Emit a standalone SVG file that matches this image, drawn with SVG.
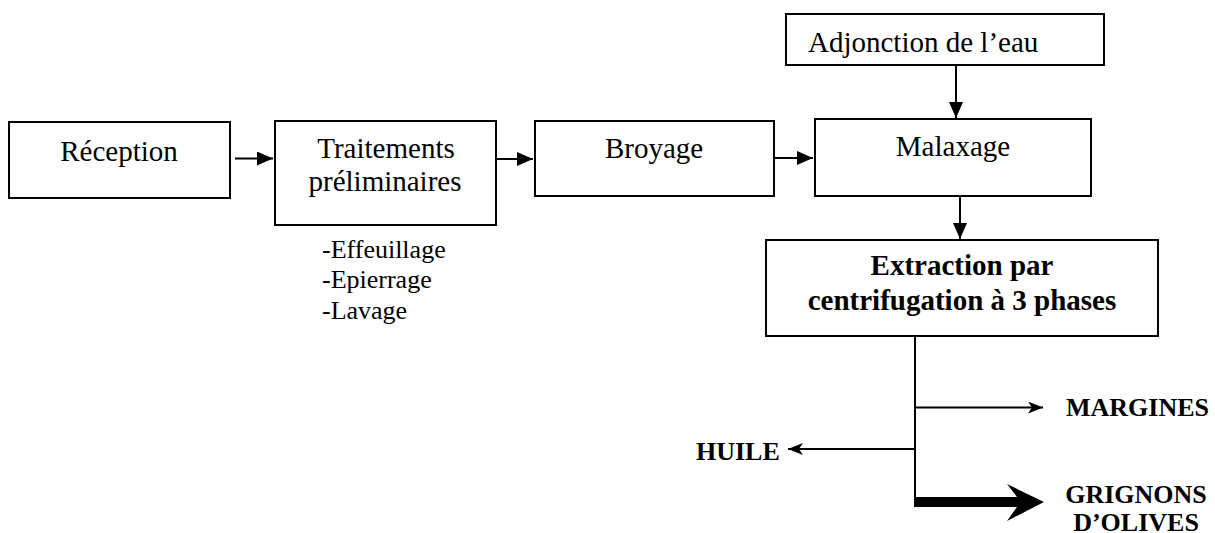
<svg xmlns="http://www.w3.org/2000/svg" width="1215" height="533" viewBox="0 0 1215 533">
<defs>
<style>
.box{fill:#fff;stroke:#000;stroke-width:2}
.t{font-family:"Times New Roman","Liberation Serif",Times,"DejaVu Serif",serif;font-size:29px;fill:#000}
.c{text-anchor:middle}
.b{font-weight:bold}
.s{font-family:"Times New Roman","Liberation Serif",Times,"DejaVu Serif",serif;font-size:26px;fill:#000}
.lab{font-family:"Times New Roman","Liberation Serif",Times,"DejaVu Serif",serif;font-size:26px;font-weight:bold;fill:#000}
.ln{fill:none;stroke:#000;stroke-width:2}
.thin{fill:none;stroke:#000;stroke-width:2}
</style>
<marker id="tri" markerUnits="userSpaceOnUse" markerWidth="16" markerHeight="14" refX="16" refY="7" orient="auto">
<path d="M0,0 L16,7 L0,14 z" fill="#000"/>
</marker>
<marker id="stealth" markerUnits="userSpaceOnUse" markerWidth="16" markerHeight="12" refX="15" refY="6" orient="auto">
<path d="M0,0 L15,6 L0,12 L4,6 z" fill="#000"/>
</marker>
</defs>
<rect width="1215" height="533" fill="#fff"/>
<g id="reception">
<rect class="box" x="9" y="122" width="221" height="76"/>
<text class="t c" x="119" y="161">Réception</text>
</g>
<g id="traitements">
<rect class="box" x="275" y="121" width="221" height="104"/>
<text class="t c" x="386" y="158">Traitements</text>
<text class="t c" x="385" y="191">préliminaires</text>
</g>
<g id="sous-etapes">
<text class="s" x="322" y="258">-Effeuillage</text>
<text class="s" x="322" y="288">-Epierrage</text>
<text class="s" x="322" y="319">-Lavage</text>
</g>
<g id="broyage">
<rect class="box" x="535" y="121" width="239" height="75"/>
<text class="t c" x="654" y="158">Broyage</text>
</g>
<g id="adjonction">
<rect class="box" x="786" y="14" width="318" height="51"/>
<text class="t" x="808" y="52">Adjonction de l’eau</text>
</g>
<g id="malaxage">
<rect class="box" x="815" y="119" width="276" height="77"/>
<text class="t c" x="953" y="156">Malaxage</text>
</g>
<g id="extraction">
<rect class="box" x="766" y="240" width="392" height="96"/>
<text class="t c b" x="962" y="275">Extraction par</text>
<text class="t c b" x="962" y="310">centrifugation à 3 phases</text>
</g>
<g id="margines"><text class="lab" x="1066" y="416">MARGINES</text></g>
<g id="huile"><text class="lab" x="696" y="460">HUILE</text></g>
<g id="grignons">
<text class="lab c" x="1136" y="503">GRIGNONS</text>
<text class="lab c" x="1136" y="531">D’OLIVES</text>
</g>
<g id="connectors">
<line class="ln" x1="235" y1="158.5" x2="273" y2="158.5" marker-end="url(#tri)"/>
<line class="ln" x1="496" y1="159" x2="533" y2="159" marker-end="url(#tri)"/>
<line class="ln" x1="774" y1="158" x2="813" y2="158" marker-end="url(#tri)"/>
<line class="ln" x1="956" y1="65" x2="956" y2="118" marker-end="url(#tri)"/>
<line class="ln" x1="960" y1="197" x2="960" y2="239" marker-end="url(#tri)"/>
<line class="ln" x1="915" y1="336" x2="915" y2="507"/>
<line class="thin" x1="915" y1="407.5" x2="1043" y2="407.5" marker-end="url(#stealth)"/>
<line class="thin" x1="915" y1="449" x2="788" y2="449" marker-end="url(#stealth)"/>
<polygon points="914,497 1017,497 1007,484 1044,502 1007,521 1017,507 914,507" fill="#000"/>
</g>
</svg>
